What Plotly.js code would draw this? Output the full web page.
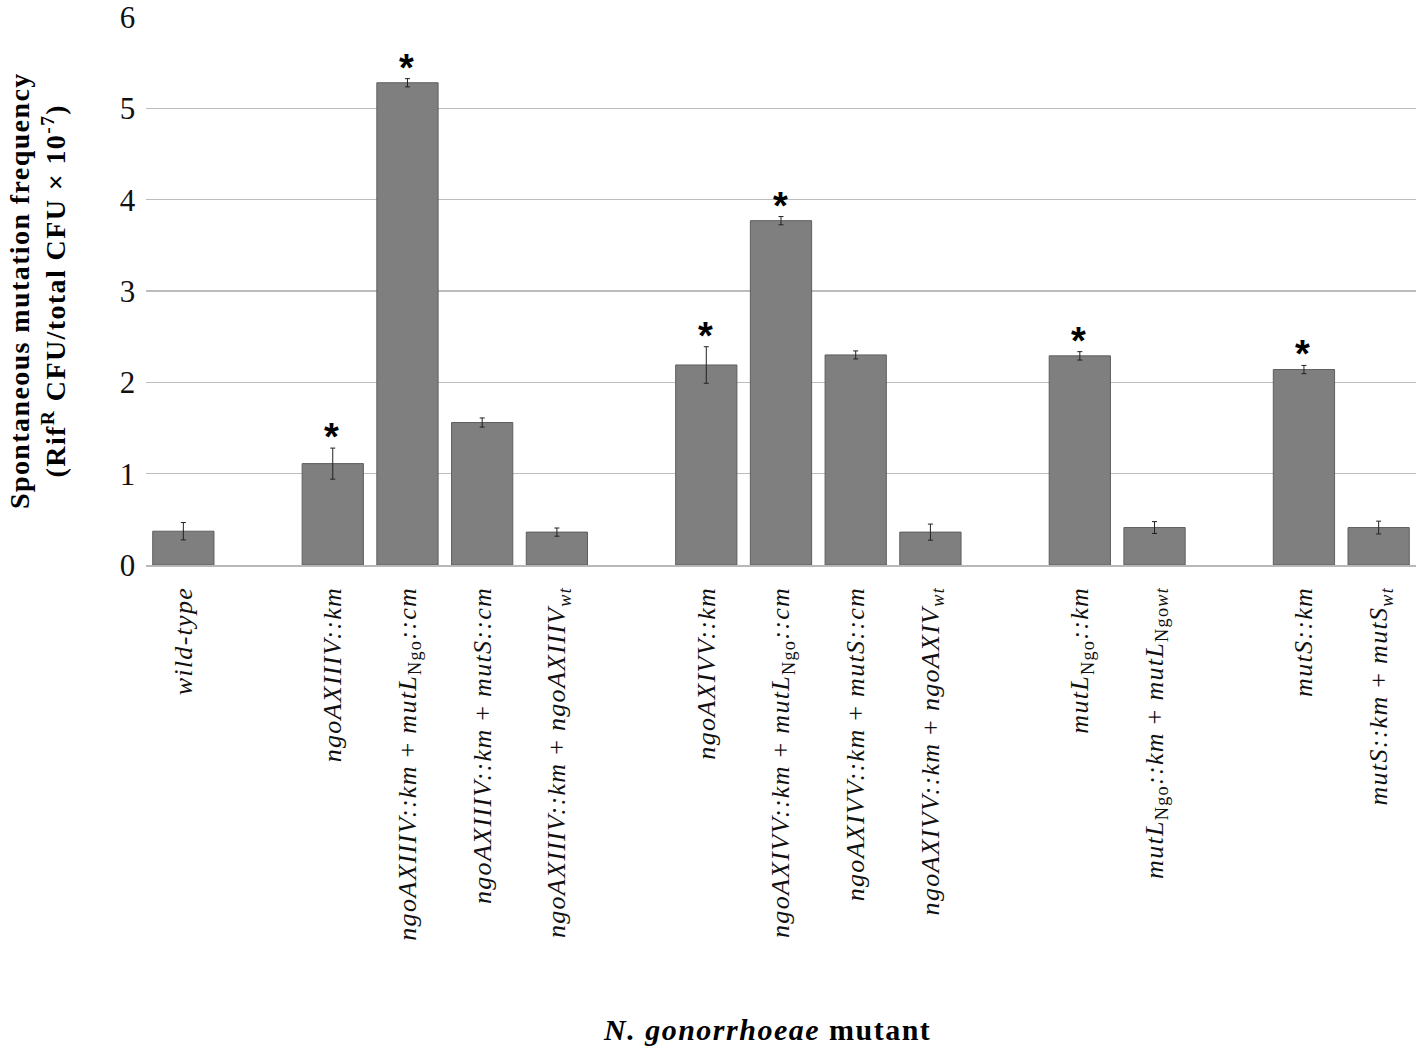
<!DOCTYPE html>
<html>
<head>
<meta charset="utf-8">
<script src="https://cdn.plot.ly/plotly-3.0.1.min.js"></script>
<style>
  html, body { margin: 0; padding: 0; background: #fff; }
  #plot { width: 1418px; height: 1048px; }
  /* the original figure is set with slightly loose tracking */
  svg text { letter-spacing: 0.05em; }
</style>
</head>
<body>
<div id="plot"></div>
<script>
// strains, grouped; a blank slot is left between groups
const strains = [
  "wild-type",
  "ngoAXIIIV::km", "ngoAXIIIV::km + mutL::cm", "ngoAXIIIV::km + mutS::cm", "ngoAXIIIV::km + ngoAXIIIV wt",
  "ngoAXIVV::km", "ngoAXIVV::km + mutL::cm", "ngoAXIVV::km + mutS::cm", "ngoAXIVV::km + ngoAXIV wt",
  "mutL::km", "mutL::km + mutL wt",
  "mutS::km", "mutS::km + mutS wt"
];
const groups = [0, 1, 1, 1, 1, 2, 2, 2, 2, 3, 3, 4, 4];
const tickLabels = [
  "<i>wild-type</i>",
  "<i>ngoAXIIIV::km</i>",
  "<i>ngoAXIIIV::km</i> + <i>mutL</i><sub>Ngo</sub><i>::cm</i>",
  "<i>ngoAXIIIV::km</i> + <i>mutS::cm</i>",
  "<i>ngoAXIIIV::km</i> + <i>ngoAXIIIV</i><sub><i>wt</i></sub>",
  "<i>ngoAXIVV::km</i>",
  "<i>ngoAXIVV::km</i> + <i>mutL</i><sub>Ngo</sub><i>::cm</i>",
  "<i>ngoAXIVV::km</i> + <i>mutS::cm</i>",
  "<i>ngoAXIVV::km</i> + <i>ngoAXIV</i><sub><i>wt</i></sub>",
  "<i>mutL</i><sub>Ngo</sub><i>::km</i>",
  "<i>mutL</i><sub>Ngo</sub><i>::km</i> + <i>mutL</i><sub>Ngo<i>wt</i></sub>",
  "<i>mutS::km</i>",
  "<i>mutS::km</i> + <i>mutS</i><sub><i>wt</i></sub>"
];
const frequency = [0.37, 1.11, 5.28, 1.56, 0.36, 2.19, 3.77, 2.30, 0.36, 2.29, 0.41, 2.14, 0.41];
const errors    = [0.095, 0.17, 0.045, 0.05, 0.045, 0.20, 0.045, 0.044, 0.088, 0.046, 0.065, 0.045, 0.07];
const significant = [false, true, true, false, false, true, true, false, false, true, false, true, false];

// category order with spacer slots between groups
const order = [];
strains.forEach((s, i) => {
  if (i > 0 && groups[i] !== groups[i - 1]) order.push("gap" + groups[i]);
  order.push(s);
});

const bars = {
  type: "bar",
  x: strains,
  y: frequency,
  marker: { color: "#7f7f7f", line: { color: "#5e5e5e", width: 1 } },
  error_y: { type: "data", array: errors, visible: true, color: "#222", thickness: 1, width: 2.5 },
  hoverinfo: "x+y"
};

// asterisks sit just above the error bar of significant strains
const stars = [];
strains.forEach((s, i) => {
  if (!significant[i]) return;
  stars.push({
    text: "<b>*</b>",
    x: s,
    y: frequency[i] + errors[i],
    xref: "x", yref: "y",
    xanchor: "center", yanchor: "bottom",
    yshift: -12,
    showarrow: false,
    font: { family: "Liberation Sans", size: 38, color: "#000" }
  });
});

const layout = {
  width: 1418,
  height: 1048,
  margin: { l: 146, r: 2, t: 17, b: 483 },
  paper_bgcolor: "#fff",
  plot_bgcolor: "#fff",
  showlegend: false,
  bargap: 0.18,
  font: { family: "Liberation Serif", color: "#000" },
  xaxis: {
    type: "category",
    categoryorder: "array",
    categoryarray: order,
    tickvals: strains,
    ticktext: tickLabels,
    tickangle: -90,
    tickfont: { family: "Liberation Serif", size: 26, color: "#111" },
    ticks: "outside",
    ticklen: 10,
    tickcolor: "rgba(0,0,0,0)",
    showline: true,
    linecolor: "#b8b8b8",
    linewidth: 1.5,
    showgrid: false,
    zeroline: false,
    automargin: false
  },
  yaxis: {
    range: [0, 6],
    dtick: 1,
    tickfont: { family: "Liberation Serif", size: 31, color: "#111" },
    ticklabeloverflow: "allow",
    ticks: "outside",
    ticklen: 2,
    tickcolor: "rgba(0,0,0,0)",
    showgrid: true,
    gridcolor: "#bcbcbc",
    gridwidth: 1.2,
    zeroline: false,
    showline: false,
    automargin: false
  },
  annotations: [
    {
      text: "<b>Spontaneous mutation frequency</b><br><b>(Rif<sup>R</sup> CFU/total CFU × 10<sup>-7</sup>)</b>",
      xref: "paper", yref: "paper",
      x: 0, y: 0.5,
      xshift: -109,
      xanchor: "center", yanchor: "middle",
      textangle: -90,
      showarrow: false,
      font: { family: "Liberation Serif", size: 28, color: "#000" }
    },
    {
      text: "<b><i>N. gonorrhoeae</i> mutant</b>",
      xref: "paper", yref: "paper",
      x: 0.489, y: 0,
      yshift: -464,
      xanchor: "center", yanchor: "middle",
      showarrow: false,
      font: { family: "Liberation Serif", size: 30, color: "#000" }
    }
  ].concat(stars)
};

Plotly.newPlot("plot", [bars], layout, { displayModeBar: false, staticPlot: true });
</script>
</body>
</html>
